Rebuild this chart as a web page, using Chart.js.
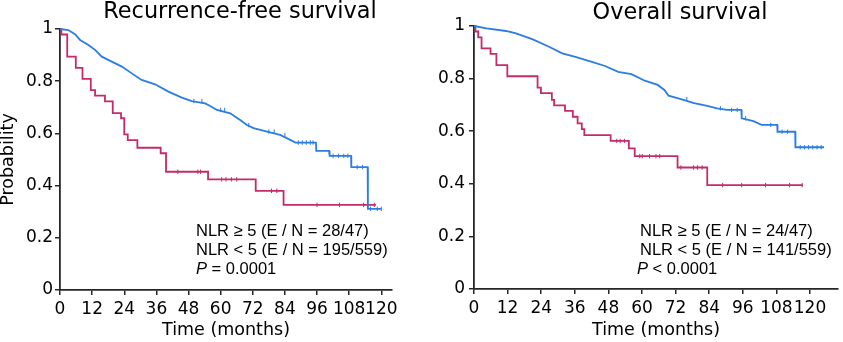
<!DOCTYPE html>
<html>
<head>
<meta charset="utf-8">
<script src="https://cdn.jsdelivr.net/npm/chart.js@4.4.0/dist/chart.umd.min.js"></script>
<style>
  body { margin: 0; background: #fff; width: 843px; height: 342px; overflow: hidden; position: relative; color: #000; }
  canvas { position: absolute; top: 0; }
  .title { position: absolute; font-family: "DejaVu Sans", sans-serif; font-size: 22.4px; line-height: 22px;
           white-space: nowrap; transform: translateX(-50%); }
  .note { position: absolute; font-family: "Liberation Sans", Arial, sans-serif; font-size: 16.5px; line-height: 19px; white-space: nowrap; }
</style>
</head>
<body>
<canvas id="rfs" width="420" height="342" style="left:0"></canvas>
<canvas id="os" width="423" height="342" style="left:420px"></canvas>

<div class="title" style="left:240px; top:-1px">Recurrence-free survival</div>
<div class="title" style="left:680px; top:0px">Overall survival</div>

<div class="note" style="left:196px; top:221px">NLR ≥ 5 (E / N = 28/47)<br>NLR &lt; 5 (E / N = 195/559)<br><i>P</i> = 0.0001</div>
<div class="note" style="left:640px; top:221px">NLR ≥ 5 (E / N = 24/47)<br>NLR &lt; 5 (E / N = 141/559)<br><span style="margin-left:-3px"><i>P</i> &lt; 0.0001</span></div>

<script>
// tick values
const xTicks = [0, 12, 24, 36, 48, 60, 72, 84, 96, 108, 120];
const yTicks = [0, 0.2, 0.4, 0.6, 0.8, 1];

// Recurrence-free survival, NLR >= 5 (red, drawn as steps)
const rfsHighTime = [0, 0.5, 2.7, 5.9, 8.4, 11.5, 13.1, 16.8, 19.7, 22.8, 24, 25.3, 28.9, 37.6, 39.6, 55.3, 73.1, 83.5, 118];
const rfsHighSurv = [1, 0.979, 0.894, 0.851, 0.809, 0.766, 0.745, 0.723, 0.678, 0.658, 0.596, 0.574, 0.545, 0.524, 0.453, 0.424, 0.38, 0.326, 0.326];
const rfsHighCensor = [44, 51.5, 52.5, 60.4, 62, 64, 66, 79, 81, 96, 104.4, 113.4, 117.4];

// Recurrence-free survival, NLR < 5 (blue, many small steps -> traced as a polyline)
const rfsLowTime = [0, 3.1, 5.6, 7.5, 10.6, 13.1, 15.6, 19.3, 23.1, 26.8, 30.5, 35.5, 40.5, 45.5, 49.2, 54.2, 56.1, 58.6, 63.6, 66, 67.3, 69.8, 72.3, 77.3, 82.2, 86, 87.9, 95.6, 95.7, 100.5, 100.7, 108.7, 108.8, 114.9, 115, 120];
const rfsLowSurv = [1, 0.996, 0.98, 0.958, 0.939, 0.92, 0.894, 0.875, 0.856, 0.83, 0.805, 0.788, 0.76, 0.737, 0.724, 0.715, 0.705, 0.69, 0.677, 0.66, 0.651, 0.632, 0.62, 0.607, 0.594, 0.575, 0.565, 0.565, 0.533, 0.533, 0.514, 0.514, 0.471, 0.471, 0.311, 0.311];
const rfsLowCensor = [50, 53, 60, 61.5, 70.5, 78, 80, 84, 89, 90.5, 92, 93.5, 94.5, 102, 104, 106, 107.5, 111, 113, 116, 118.5, 120];

// Overall survival, NLR >= 5 (red, steps)
const osHighTime = [0, 0.5, 1.5, 2.7, 5.9, 8.0, 11.9, 22.7, 23.9, 27.8, 28.6, 32.5, 35.3, 37.0, 38.5, 39.4, 48.8, 55.3, 57.4, 72.7, 83.3, 117.4];
const osHighSurv = [1, 0.979, 0.957, 0.915, 0.894, 0.851, 0.809, 0.766, 0.745, 0.719, 0.698, 0.677, 0.655, 0.63, 0.608, 0.585, 0.563, 0.535, 0.505, 0.462, 0.395, 0.395];
const osHighCensor = [51, 52.2, 53.7, 59.2, 60.1, 62.7, 65, 66.3, 73.9, 78.4, 79.8, 81.5, 88.8, 95.6, 104.1, 112.7, 117.2];

// Overall survival, NLR < 5 (blue, polyline)
const osLowTime = [0, 4.5, 11.4, 15, 21, 26.8, 31.5, 36.2, 42.1, 46.8, 51.5, 56.2, 61, 65.6, 68, 69.5, 73.9, 78.6, 83.3, 86.8, 90.4, 95.5, 95.6, 99.8, 102.7, 108.3, 108.4, 114.7, 114.8, 125];
const osLowSurv = [1, 0.991, 0.981, 0.972, 0.949, 0.921, 0.896, 0.883, 0.864, 0.848, 0.826, 0.817, 0.792, 0.776, 0.757, 0.735, 0.722, 0.707, 0.696, 0.687, 0.681, 0.681, 0.649, 0.638, 0.624, 0.624, 0.598, 0.598, 0.539, 0.539];
const osLowCensor = [76, 88, 92, 94, 97, 106, 110, 112, 116.5, 118, 119.5, 121, 122.5, 124];

const BLUE = '#2b7de6';
const RED = '#c22c6c';
const AXIS = '#262626';
const TICK_FONT = '"DejaVu Sans", sans-serif';

function points(times, surv) {
    return times.map((t, i) => ({ x: t, y: surv[i] }));
}
// value of the curve at time t (for the censor ticks)
function survAt(times, surv, t) {
    let s = surv[0];
    for (let i = 0; i < times.length; i++) {
        if (times[i] <= t) s = surv[i];
    }
    return s;
}
function censorPoints(times, surv, marks) {
    return marks.map(t => ({ x: t, y: survAt(times, surv, t) }));
}

function curve(times, surv, color, stepped) {
    return {
        data: points(times, surv),
        showLine: true,
        stepped: stepped,
        borderColor: color,
        borderWidth: 1.8,
        pointRadius: 0,
        fill: false,
        clip: false
    };
}
function censorSet(times, surv, marks, color) {
    return {
        data: censorPoints(times, surv, marks),
        showLine: false,
        pointStyle: 'line',
        rotation: 90,
        pointRadius: 2.2,
        borderColor: color,
        borderWidth: 1,
        clip: false
    };
}

function makeChart(id, cfg) {
    return new Chart(document.getElementById(id), {
        type: 'scatter',
        data: { datasets: cfg.datasets },
        options: {
            responsive: false,
            animation: false,
            layout: { padding: cfg.padding },
            plugins: { legend: { display: false }, tooltip: { enabled: false } },
            scales: {
                x: {
                    type: 'linear',
                    min: 0,
                    max: cfg.xMax,
                    afterBuildTicks: s => { s.ticks = xTicks.map(v => ({ value: v })); },
                    afterFit: s => { s.height = cfg.xHeight; },
                    ticks: { autoSkip: false, maxRotation: 0, padding: 4, color: '#000', font: { family: TICK_FONT, size: 17 } },
                    grid: { display: true, drawOnChartArea: false, drawTicks: true, tickLength: 5, color: AXIS, lineWidth: 1.5 },
                    border: { display: true, color: AXIS, width: 1.8 },
                    title: { display: true, text: 'Time (months)', color: '#000', padding: { top: 0, bottom: 2.5 },
                             font: { family: TICK_FONT, size: 17.5, lineHeight: 1 } }
                },
                y: {
                    type: 'linear',
                    min: 0,
                    max: 1,
                    afterBuildTicks: s => { s.ticks = yTicks.map(v => ({ value: v })); },
                    afterFit: s => { s.width = cfg.yWidth; },
                    ticks: { padding: cfg.yPad, color: '#000', font: { family: TICK_FONT, size: 17 }, callback: v => String(v) },
                    grid: { display: true, drawOnChartArea: false, drawTicks: true, tickLength: 5, color: AXIS, lineWidth: 1.5 },
                    border: { display: true, color: AXIS, width: 1.8 },
                    title: { display: cfg.yTitle, text: 'Probability', color: '#000', padding: 0,
                             font: { family: TICK_FONT, size: 17.5, lineHeight: 1 } }
                }
            }
        }
    });
}

makeChart('rfs', {
    xMax: 124,
    padding: { top: 29, right: 28, bottom: 0, left: 0 },
    xHeight: 52,
    yWidth: 60,
    yPad: 2,
    yTitle: true,
    datasets: [
        curve(rfsLowTime, rfsLowSurv, BLUE, false),
        curve(rfsHighTime, rfsHighSurv, RED, true),
        censorSet(rfsLowTime, rfsLowSurv, rfsLowCensor, BLUE),
        censorSet(rfsHighTime, rfsHighSurv, rfsHighCensor, RED)
    ]
});

makeChart('os', {
    xMax: 130,
    padding: { top: 26, right: 1, bottom: 0, left: 0 },
    xHeight: 53,
    yWidth: 54,
    yPad: 4,
    yTitle: false,
    datasets: [
        curve(osLowTime, osLowSurv, BLUE, false),
        curve(osHighTime, osHighSurv, RED, true),
        censorSet(osLowTime, osLowSurv, osLowCensor, BLUE),
        censorSet(osHighTime, osHighSurv, osHighCensor, RED)
    ]
});
</script>
</body>
</html>
